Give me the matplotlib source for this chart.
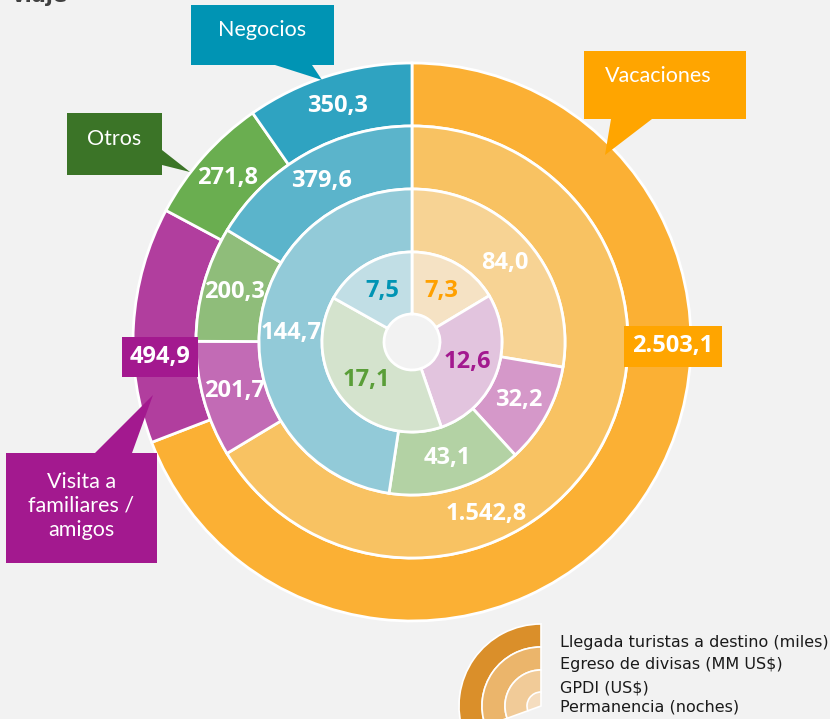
import numpy as np
import matplotlib
matplotlib.use("Agg")
import matplotlib.pyplot as plt
from matplotlib.patches import Polygon, Wedge, Rectangle

# Datos por motivo de viaje (orden horario desde arriba)
motivos = ["Vacaciones", "Visita a\nfamiliares /\namigos", "Otros", "Negocios"]
llegadas = [2503.1, 494.9, 271.8, 350.3]      # Llegada turistas a destino (miles)
egreso = [1542.8, 201.7, 200.3, 379.6]        # Egreso de divisas (MM US$)
gpdi = [84.0, 32.2, 43.1, 144.7]              # GPDI (US$)
permanencia = [7.3, 12.6, 17.1, 7.5]          # Permanencia (noches)

series = [llegadas, egreso, gpdi, permanencia]
leyenda = ["Llegada turistas a destino (miles)", "Egreso de divisas (MM US$)",
           "GPDI (US$)", "Permanencia (noches)"]

# colores: un tono por motivo, cada anillo mas claro hacia el centro
colores = [
    ["#FBB034", "#B13E9E", "#6AAE50", "#2FA3C1"],
    ["#F8C262", "#C26BB5", "#8FBD7A", "#5BB4CB"],
    ["#F7D394", "#D598C9", "#B3D2A4", "#92CAD8"],
    ["#F5E2C4", "#E2C4DE", "#D4E3CD", "#C1DEE5"],
]
callout_col = ["#FFA500", "#A3198F", "#3B7427", "#0094B4"]
label_col_inner = ["#FFA000", "#A3198F", "#5A9E38", "#0094B4"]

W, H = 830, 719
BG = "#F2F2F2"


def px(x, y):
    # pixel (y hacia abajo) -> datos
    return x, H - y


def fmt(v):
    s = "{:,.1f}".format(v)
    return s.replace(",", "X").replace(".", ",").replace("X", ".")


fig = plt.figure(figsize=(W / 100, H / 100), dpi=100)
fig.patch.set_facecolor(BG)
ax = fig.add_axes([0, 0, 1, 1])
ax.set_facecolor(BG)

cx, cy = px(412, 342)
radios = [279, 216, 153, 90]
ancho = [63, 63, 63, 62]

for i, vals in enumerate(series):
    ax.pie(vals, radius=radios[i], center=(cx, cy), startangle=90,
           counterclock=False, colors=colores[i],
           wedgeprops=dict(width=ancho[i], edgecolor="white", linewidth=2))

ax.set_xlim(0, W)
ax.set_ylim(0, H)
ax.set_aspect("equal")
ax.axis("off")

# posiciones de etiquetas movidas a mano (desplazamiento en pixeles desde el centro)
ajustes = {
    (0, 0): (261, 4), (0, 1): (-252, 15),
    (1, 0): (74, 172),
}
# cajas de fondo de dos etiquetas (ancho, alto en pixeles)
cajas = {(0, 0): (98, 41), (0, 1): (76, 40)}

for i, vals in enumerate(series):
    tot = sum(vals)
    acum = 0
    rmid = radios[i] - ancho[i] / 2
    for j, v in enumerate(vals):
        mid = (acum + v / 2) / tot * 360
        acum += v
        if (i, j) in ajustes:
            dx, dy = ajustes[(i, j)]
            x, y = cx + dx, cy - dy
        else:
            x = cx + rmid * np.sin(np.radians(mid))
            y = cy + rmid * np.cos(np.radians(mid))
        col = label_col_inner[j] if i == 3 else "white"
        if (i, j) in cajas:
            bw, bh = cajas[(i, j)]
            ax.add_patch(Rectangle((x - bw / 2, y - bh / 2), bw, bh,
                                   fc=callout_col[j], ec="none", zorder=4))
        ax.text(x, y, fmt(v), ha="center", va="center", color=col,
                fontsize=17, fontweight="bold", family="Open Sans", zorder=5)

# globos de texto con los motivos
globos = [
    # (caja x0, y0, x1, y1), cola (a, punta, b), texto y
    ((584, 51, 746, 119), [(611, 119), (605, 155), (652, 119)], 76),
    ((6, 453, 157, 563), [(95, 453), (153, 395), (132, 453)], 506),
    ((67, 113, 162, 175), [(162, 150), (190, 172), (162, 165)], 139),
    ((191, 5, 334, 65), [(275, 65), (322, 80), (312, 65)], 30),
]
for j, (caja, cola, ty) in enumerate(globos):
    x0, y0, x1, y1 = caja
    ax.add_patch(Polygon([px(x0, y0), px(x1, y0), px(x1, y1), px(x0, y1)],
                         closed=True, fc=callout_col[j], ec="none", zorder=5))
    ax.add_patch(Polygon([px(*p) for p in cola], closed=True,
                         fc=callout_col[j], ec="none", zorder=5))
    tx = (x0 + x1) / 2 if j != 0 else 658
    ax.text(*px(tx, ty), motivos[j], ha="center", va="center", color="white",
            fontsize=15.5, family="Lato", linespacing=1.25, zorder=6)

# leyenda con arcos concentricos
lcx, lcy = px(541, 706)
leg_col = ["#DA8F2A", "#EBB56B", "#F1CB98", "#F5DDBF"]
leg_r = [82, 59, 36, 14]
for k in range(4):
    w = 23 if k < 3 else None
    ax.add_patch(Wedge((lcx, lcy), leg_r[k], 90, 200, width=w,
                       fc=leg_col[k], ec="white", lw=1.2))
for k, t in enumerate(leyenda):
    ax.text(*px(560, [643, 665, 688, 707][k]), t, ha="left", va="center",
            fontsize=11.5, color="#1A1A1A", family="DejaVu Sans")

# titulo (cortado en la imagen original)
ax.text(*px(12, 2), "viaje", ha="left", va="baseline", fontsize=15,
        fontweight="bold", color="#404040", family="DejaVu Sans")

fig.savefig("out.png", dpi=100, facecolor=BG)
